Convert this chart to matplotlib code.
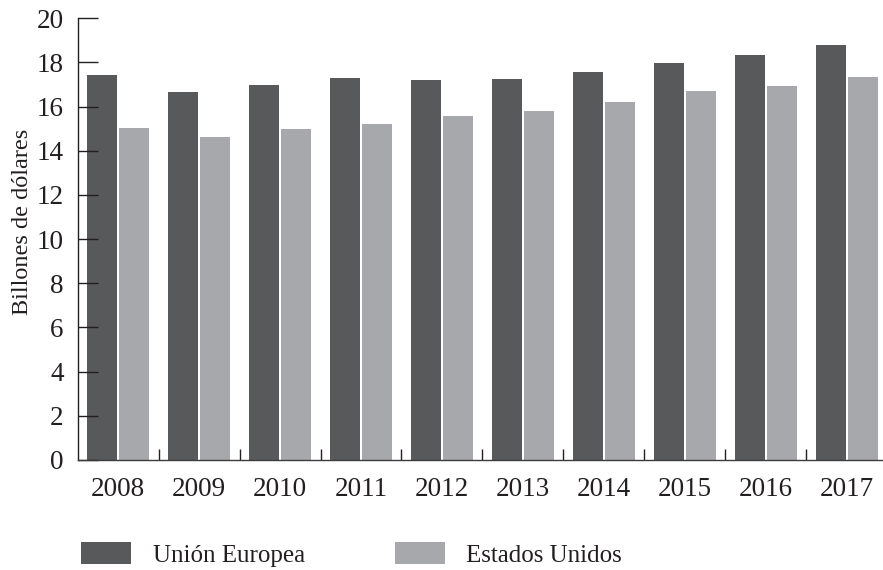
import matplotlib
matplotlib.use("Agg")
import matplotlib.pyplot as plt
import numpy as np

plt.rcParams['font.family'] = ['Liberation Serif', 'DejaVu Serif']

# data
years = ['2008', '2009', '2010', '2011', '2012', '2013', '2014', '2015', '2016', '2017']
eu = [17.43, 16.67, 16.98, 17.30, 17.21, 17.26, 17.57, 17.98, 18.34, 18.80]
us = [15.05, 14.64, 14.99, 15.22, 15.58, 15.81, 16.21, 16.71, 16.94, 17.35]
series_names = ['Unión Europea', 'Estados Unidos']
yticks = [0, 2, 4, 6, 8, 10, 12, 14, 16, 18, 20]

eu_color = '#58595b'
us_color = '#a7a8ab'
txt = '#231f20'

fig = plt.figure(figsize=(8.83, 5.70), dpi=100)
ax = fig.add_axes([0.088, 0.193, 0.912, 0.775])

x = np.arange(len(years))
w = 0.37
b1 = ax.bar(x - 0.198, eu, w, color=eu_color, linewidth=0)
b2 = ax.bar(x + 0.198, us, w, color=us_color, linewidth=0)

ax.set_xlim(-0.5, 9.45)
ax.set_ylim(0, 20)

ax.spines['top'].set_visible(False)
ax.spines['right'].set_visible(False)
ax.spines['left'].set_color('#231f20')
ax.spines['bottom'].set_color('#3c3c3c')
ax.spines['left'].set_linewidth(1.0)
ax.spines['bottom'].set_linewidth(1.0)

ax.set_yticks(yticks)
ax.tick_params(axis='y', direction='in', length=14.4, width=1.0, color='#231f20',
               pad=10, labelsize=19.5, labelcolor=txt)

ax.set_xticks(x)
ax.set_xticklabels(years)
ax.set_xticks(np.arange(len(years) - 1) + 0.5, minor=True)
ax.tick_params(axis='x', which='major', length=0, pad=12, labelsize=19.5, labelcolor=txt)
ax.tick_params(axis='x', which='minor', direction='in', length=8, width=1.0, color='#231f20')

ax.set_ylabel('Billones de dólares', fontsize=17.5, color=txt)
ax.yaxis.set_label_coords(-0.056, 0.54)

fig.legend([b1, b2], series_names, loc='lower left', bbox_to_anchor=(0.078, -0.016),
           ncol=2, frameon=False, fontsize=18, handlelength=2.0, handleheight=0.95,
           handletextpad=0.85, columnspacing=3.6, borderpad=0, labelcolor=txt)

fig.savefig('out.png', dpi=100)
